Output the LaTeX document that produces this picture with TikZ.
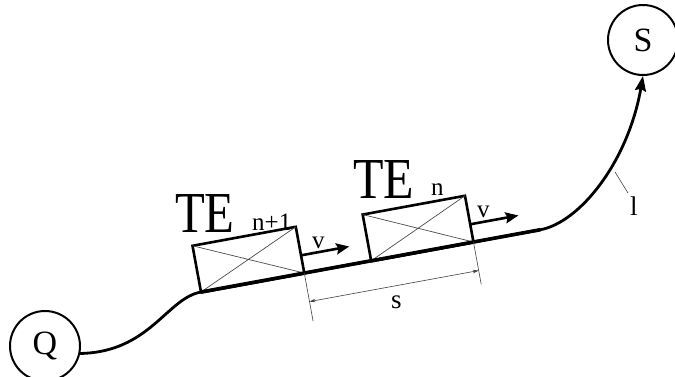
\documentclass[tikz,border=0pt]{standalone}
\usepackage{fontspec}
\setmainfont{Liberation Serif}
\usetikzlibrary{arrows.meta,calc}
\begin{document}
\begin{tikzpicture}[x=1pt,y=-1pt,
  station/.style={draw,circle,line width=2pt,minimum size=70pt,inner sep=0pt,font=\fontsize{34}{34}\selectfont},
  track/.style={line width=2.8pt},
  trackbold/.style={line width=3.6pt},
  boxedge/.style={line width=2.6pt,line join=miter},
  diag/.style={line width=0.7pt,draw=black!70},
  dim/.style={line width=0.6pt,draw=black!75},
  lbl/.style={inner sep=0pt,anchor=base west,font=\fontsize{27}{27}\selectfont},
  sublbl/.style={inner sep=0pt,anchor=base west,font=\fontsize{25}{25}\selectfont},
  big/.style={inner sep=0pt,anchor=base west,font=\fontsize{58}{58}\selectfont},
  bigarrow/.style={-{Stealth[length=15pt,width=11pt,inset=2pt]}},
  varrow/.style={line width=2.6pt,-{Stealth[length=13pt,width=11pt,inset=2pt]}},
  dimarrow/.style={{Stealth[length=6pt,width=3.5pt]}-{Stealth[length=6pt,width=3.5pt]}},
]
\useasboundingbox (0,0) rectangle (675,376);

% direction vectors
\coordinate (u) at (0.9836,-0.1805);
\coordinate (n) at (-0.1805,-0.9836);
\coordinate (m) at (0.1805,0.9836);

% stations
\node[station] (Q) at (45,346) {Q};
\node[station] (S) at (643,40) {S};

% box corners
\coordinate (BL1) at (201,292);
\coordinate (BR1) at ($(BL1)+105*(u)$);
\coordinate (TL1) at ($(BL1)+47*(n)$);
\coordinate (TR1) at ($(BR1)+47*(n)$);
\coordinate (BL2) at ($(BL1)+173*(u)$);
\coordinate (BR2) at ($(BL1)+277*(u)$);
\coordinate (TL2) at ($(BL2)+47*(n)$);
\coordinate (TR2) at ($(BR2)+47*(n)$);
\coordinate (C) at ($(BL1)+345*(u)$);
\coordinate (c1) at ($(BL1)-35*(u)$);
\coordinate (c2) at ($(C)+40*(u)$);

% track
\draw[track,bigarrow] (Q.-12) .. controls (150,352) and (c1) .. (BL1) -- (C)
  .. controls (c2) and (628,162) .. (S.south);
\draw[trackbold] (BL1) -- (C);

% boxes
\draw[boxedge,fill=white] (BL1) -- (BR1) -- (TR1) -- (TL1) -- cycle;
\draw[diag] (BL1) -- (TR1) (TL1) -- (BR1);
\draw[boxedge,fill=white] (BL2) -- (BR2) -- (TR2) -- (TL2) -- cycle;
\draw[diag] (BL2) -- (TR2) (TL2) -- (BR2);
\draw[trackbold] (BL1) -- (BR1);
\draw[trackbold] (BL2) -- (BR2);

% velocity arrows
\coordinate (v1s) at ($(BR1)+18*(n)$);
\coordinate (v1e) at ($(v1s)+49*(u)$);
\coordinate (v2s) at ($(BR2)+18*(n)$);
\coordinate (v2e) at ($(v2s)+49*(u)$);
\draw[varrow] (v1s) -- (v1e);
\draw[varrow] (v2s) -- (v2e);
\node[sublbl] (v1) at (312,248) {v};
\node[sublbl] (v2) at (477,217) {v};

% dimension s
\coordinate (e1) at ($(BR1)+49*(m)$);
\coordinate (e2) at ($(BR2)+43*(m)$);
\draw[dim] (BR1) -- (e1);
\draw[dim] (BR2) -- (e2);
\coordinate (d1) at ($(BR1)+29*(m)$);
\coordinate (d2) at ($(BR2)+29*(m)$);
\draw[dim,dimarrow] (d1) -- (d2);
\node[lbl] (s) at (391,308) {s};

% labels
\node[big] (te1) at (175,232) {\scalebox{0.84}[1]{TE}};
\node[sublbl] (n1) at (252,230) {n+1};
\node[big] (te2) at (353,198) {\scalebox{0.86}[1]{TE}};
\node[sublbl] (n2) at (431,195) {n};

% length l
\coordinate (lp) at (615,172);
\node[lbl] (l) at (630,215) {l};
\draw[dim] (lp) -- (628,193);
\end{tikzpicture}
\end{document}
